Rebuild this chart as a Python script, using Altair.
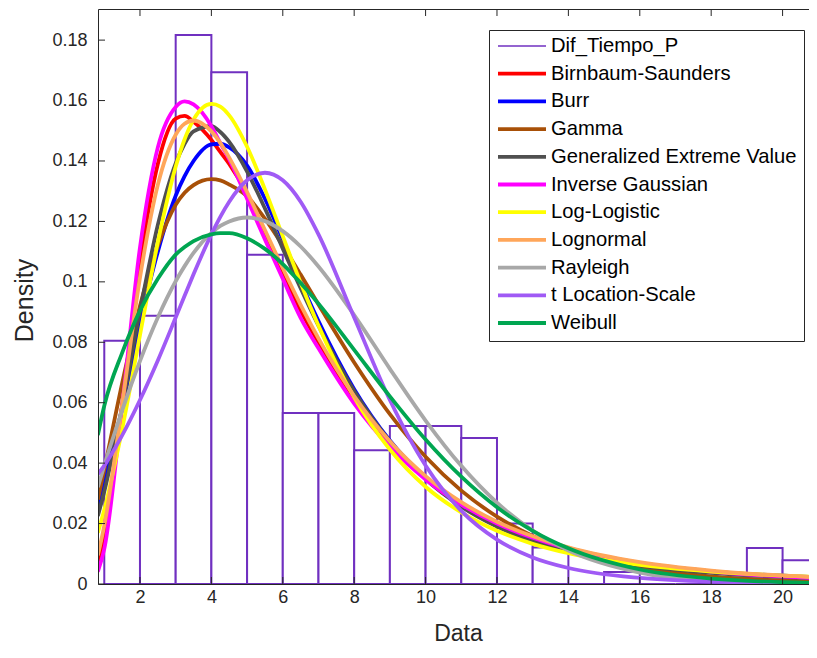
import altair as alt
import pandas as pd

# ---------------- data ----------------
names = ["Dif_Tiempo_P", "Birnbaum-Saunders", "Burr", "Gamma",
         "Generalized Extreme Value", "Inverse Gaussian", "Log-Logistic",
         "Lognormal", "Rayleigh", "t Location-Scale", "Weibull"]
colors = ["#7030C0", "#FF0000", "#0000FF", "#A85008", "#505050", "#FF00FF",
          "#FFFF00", "#FFA65A", "#A8A8A8", "#A05AF5", "#00A651"]
legend_widths = [1.5, 3.8, 3.8, 3.8, 3.8, 3.8, 3.8, 3.8, 3.8, 3.8, 3.8]

# histogram (bin width 1)
bin_start = [1, 2, 3, 4, 5, 6, 7, 8, 9, 10, 11, 12, 13, 14, 15, 16, 17, 18, 19, 20]
bin_density = [0.0805, 0.0888, 0.1817, 0.1694, 0.1090, 0.0566, 0.0566, 0.0443,
               0.0523, 0.0523, 0.0483, 0.0200, 0.0121, 0.0, 0.0040, 0.0, 0.0,
               0.0, 0.0119, 0.0079]

# fitted density curves, read at these x positions
x_grid = [0.82, 1.0, 1.5, 2, 2.5, 3, 3.25, 3.5, 4, 4.25, 4.5, 5, 5.5, 6, 6.5,
          7, 8, 9, 10, 11, 12, 13, 14, 16, 18, 21]
birnbaum = [0.0065, 0.0150, 0.0590, 0.1060, 0.1390, 0.1540, 0.1549, 0.1530,
            0.1470, 0.1430, 0.1390, 0.1290, 0.1160, 0.1030, 0.0905, 0.0800,
            0.0610, 0.0460, 0.0350, 0.0267, 0.0203, 0.0155, 0.0119, 0.0070,
            0.0042, 0.0020]
burr = [0.0250, 0.0340, 0.0580, 0.0860, 0.1100, 0.1285, 0.1350, 0.1400,
        0.1455, 0.1457, 0.1445, 0.1385, 0.1275, 0.1140, 0.1000, 0.0870,
        0.0645, 0.0475, 0.0350, 0.0260, 0.0195, 0.0148, 0.0113, 0.0068,
        0.0042, 0.0022]
gamma = [0.0279, 0.0379, 0.0664, 0.0920, 0.1119, 0.1255, 0.1295, 0.1320,
         0.1340, 0.1336, 0.1322, 0.1283, 0.1209, 0.1120, 0.1024, 0.0925,
         0.0733, 0.0562, 0.0421, 0.0309, 0.0223, 0.0159, 0.0112, 0.0054,
         0.0025, 0.0008]
gev = [0.0225, 0.0306, 0.0587, 0.0904, 0.1188, 0.1392, 0.1457, 0.1498,
       0.1515, 0.1496, 0.1463, 0.1365, 0.1243, 0.1110, 0.0979, 0.0855,
       0.0639, 0.0472, 0.0347, 0.0256, 0.0190, 0.0141, 0.0106, 0.0061,
       0.0037, 0.0018]
inv_gauss = [0.0041, 0.0116, 0.0589, 0.1114, 0.1445, 0.1579, 0.1597, 0.1587,
             0.1515, 0.1459, 0.1405, 0.1275, 0.1140, 0.1010, 0.0881, 0.0780,
             0.0597, 0.0454, 0.0346, 0.0263, 0.0200, 0.0153, 0.0117, 0.0069,
             0.0041, 0.0019]
log_logistic = [0.0170, 0.0246, 0.0512, 0.0824, 0.1131, 0.1381, 0.1472,
                0.1537, 0.1589, 0.1580, 0.1551, 0.1447, 0.1306, 0.1151,
                0.0997, 0.0855, 0.0618, 0.0445, 0.0322, 0.0237, 0.0176,
                0.0133, 0.0102, 0.0063, 0.0041, 0.0023]
lognormal = [0.0095, 0.0193, 0.0594, 0.1014, 0.1321, 0.1487, 0.1523, 0.1534,
             0.1498, 0.1460, 0.1411, 0.1297, 0.1171, 0.1045, 0.0924, 0.0813,
             0.0622, 0.0472, 0.0357, 0.0271, 0.0206, 0.0158, 0.0121, 0.0072,
             0.0044, 0.0022]
rayleigh = [0.0320, 0.0392, 0.0574, 0.0738, 0.0882, 0.1002, 0.1052, 0.1096,
            0.1162, 0.1185, 0.1200, 0.1213, 0.1201, 0.1168, 0.1117, 0.1051,
            0.0890, 0.0712, 0.0541, 0.0391, 0.0269, 0.0177, 0.0111, 0.0038,
            0.0011, 0.0001]
t_loc_scale = [0.0364, 0.0392, 0.0492, 0.0609, 0.0740, 0.0882, 0.0954,
               0.1025, 0.1157, 0.1215, 0.1265, 0.1336, 0.1361, 0.1336,
               0.1265, 0.1157, 0.0882, 0.0609, 0.0392, 0.0242, 0.0147,
               0.0088, 0.0053, 0.0020, 0.0008, 0.0003]
weibull = [0.0493, 0.0590, 0.0765, 0.0905, 0.1010, 0.1090, 0.1115, 0.1135,
           0.1157, 0.1161, 0.1161, 0.1144, 0.1109, 0.1059, 0.0996, 0.0928,
           0.0775, 0.0621, 0.0478, 0.0355, 0.0254, 0.0176, 0.0118, 0.0048,
           0.0018, 0.0003]

fit_values = [birnbaum, burr, gamma, gev, inv_gauss, log_logistic, lognormal,
              rayleigh, t_loc_scale, weibull]

x_ticks = [2, 4, 6, 8, 10, 12, 14, 16, 18, 20]
y_ticks = [0, 0.02, 0.04, 0.06, 0.08, 0.1, 0.12, 0.14, 0.16, 0.18]

# ---------------- tables ----------------
hist = pd.DataFrame({"start": bin_start,
                     "end": [s + 1 for s in bin_start],
                     "density": bin_density,
                     "base": [0.0] * len(bin_start)})

rows = []
for nm, vals in zip(names[1:], fit_values):
    for xv, yv in zip(x_grid, vals):
        rows.append({"dist": nm, "x": xv, "y": yv})
curves = pd.DataFrame(rows)

# ---------------- styling ----------------
W, H = 711, 575
FONT = "Liberation Sans"
AX = "#262626"
xs = alt.Scale(domain=[0.824, 0.824 + W / 35.7], nice=False, zero=False)
ys = alt.Scale(domain=[0, 0.1903], nice=False, zero=False)
cscale = alt.Scale(domain=names, range=colors)
wscale = alt.Scale(type="ordinal", domain=names, range=legend_widths)

legend = alt.Legend(
    title=None, orient="none", legendX=391, legendY=21, padding=7,
    strokeColor=AX, fillColor="white", symbolType="stroke", symbolSize=2304,
    clipHeight=18, labelFont=FONT, labelFontSize=20.2, labelColor="#000000",
    labelOffset=3, rowPadding=6.7, labelLimit=400,
)

bars = alt.Chart(hist).mark_rect(
    fill="white", stroke=colors[0], strokeWidth=2, clip=True
).encode(
    x=alt.X("start:Q", scale=xs,
            axis=alt.Axis(values=x_ticks, ticks=False, grid=False,
                          domainColor=AX, domainWidth=1, zindex=1,
                          labelFont=FONT, labelFontSize=18, labelColor=AX,
                          labelPadding=4, title="Data", titleFont=FONT,
                          titleFontSize=23, titleFontWeight="normal",
                          titleColor=AX, titleX=360, titleY=56,
                          titleBaseline="alphabetic", titleAlign="center")),
    x2="end:Q",
    y=alt.Y("density:Q", scale=ys,
            axis=alt.Axis(values=y_ticks, format=".2~f", ticks=False,
                          grid=False, domainColor=AX, domainWidth=1, zindex=1,
                          labelFont=FONT, labelFontSize=18, labelColor=AX,
                          labelPadding=11, title="Density", titleFont=FONT,
                          titleFontSize=25, titleFontWeight="normal",
                          titleColor=AX, titleAngle=270, titleX=-66,
                          titleY=291, titleBaseline="alphabetic",
                          titleAlign="center")),
    y2="base:Q",
)

line_layers = []
for nm in names[1:]:
    line_layers.append(
        alt.Chart(curves).transform_filter(alt.datum.dist == nm)
        .mark_line(interpolate="monotone", clip=True, strokeCap="butt")
        .encode(
            x=alt.X("x:Q", scale=xs, axis=None),
            y=alt.Y("y:Q", scale=ys, axis=None),
            color=alt.Color("dist:N", scale=cscale, legend=legend),
            strokeWidth=alt.StrokeWidth("dist:N", scale=wscale, legend=legend),
        )
    )

xt = pd.DataFrame({"v": x_ticks})
yt = pd.DataFrame({"v": y_ticks})
bottom_ticks = alt.Chart(xt).mark_rule(color=AX, strokeWidth=1).encode(
    x=alt.X("v:Q", scale=xs, axis=None), y=alt.value(H), y2=alt.value(H - 7))
top_ticks = alt.Chart(xt).mark_rule(color=AX, strokeWidth=1).encode(
    x=alt.X("v:Q", scale=xs,
            axis=alt.Axis(orient="top", labels=False, ticks=False, grid=False,
                          title=None, domainColor=AX, domainWidth=1, zindex=1)),
    y=alt.value(0), y2=alt.value(7))
left_ticks = alt.Chart(yt).mark_rule(color=AX, strokeWidth=1).encode(
    y=alt.Y("v:Q", scale=ys, axis=None), x=alt.value(0), x2=alt.value(7))

chart = alt.layer(bars, *line_layers, bottom_ticks, top_ticks, left_ticks).resolve_axis(
    x="independent", y="independent"
).properties(
    width=W, height=H,
    padding={"left": 90, "top": 1, "right": 0, "bottom": 62},
    autosize=alt.AutoSizeParams(type="none"),
    background="white",
).configure_view(stroke="transparent")

chart.save("out.html", embed_options={"renderer": "svg", "actions": False})
